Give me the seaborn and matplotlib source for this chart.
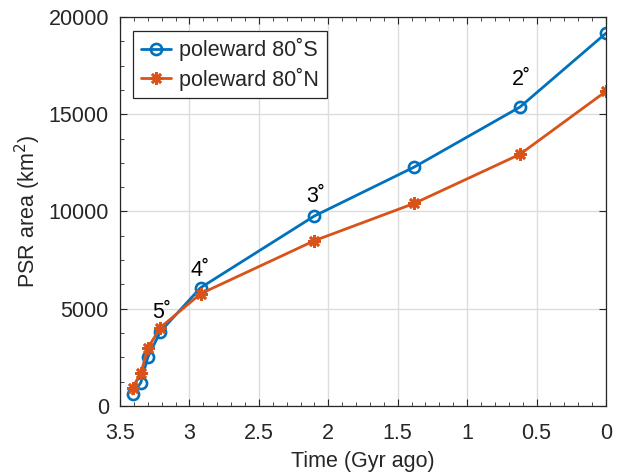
import seaborn as sns
import matplotlib.pyplot as plt
from matplotlib.ticker import MultipleLocator
import pandas as pd

sns.set_style("ticks")
plt.rcParams["font.family"] = ["Liberation Sans", "DejaVu Sans"]

# Data (time in Gyr ago, PSR area in km^2)
time_gyr = [3.41, 3.35, 3.30, 3.21, 2.92, 2.10, 1.38, 0.62, 0.0]
area_south = [620, 1200, 2500, 3820, 6080, 9770, 12290, 15370, 19170]
area_north = [940, 1680, 2970, 4030, 5770, 8500, 10420, 12940, 16180]
series_names = ["poleward 80˚S", "poleward 80˚N"]

# latitude labels attached to points of the southern curve
lat_labels = ["5˚", "4˚", "3˚", "2˚"]
lat_label_idx = [3, 4, 5, 7]

df_s = pd.DataFrame({"time": time_gyr, "area": area_south})
df_n = pd.DataFrame({"time": time_gyr, "area": area_north})

blue = "#0072BD"
orange = "#D95319"

fig = plt.figure(figsize=(6.19, 4.74), dpi=100)
ax = fig.add_axes([0.1939, 0.1435, 0.7851, 0.8206])

sns.lineplot(data=df_s, x="time", y="area", color=blue, marker="o",
             sort=False, linewidth=2.0, markersize=8, markeredgewidth=1.9,
             markerfacecolor="none", markeredgecolor=blue,
             label=series_names[0], ax=ax)
sns.lineplot(data=df_n, x="time", y="area", color=orange, marker=(8, 2, 0),
             sort=False, linewidth=2.0, markersize=9, markeredgewidth=1.9,
             markeredgecolor=orange, label=series_names[1], ax=ax)

ax.set_xlim(3.5, 0)
ax.set_ylim(0, 20000)
ax.xaxis.set_minor_locator(MultipleLocator(0.1))
ax.yaxis.set_major_locator(MultipleLocator(5000))
ax.yaxis.set_minor_locator(MultipleLocator(1250))
ax.set_xticks([3.5, 3, 2.5, 2, 1.5, 1, 0.5, 0])
ax.set_xticklabels(["3.5", "3", "2.5", "2", "1.5", "1", "0.5", "0"])

ax.grid(True, which="major", color="#dcdcdc", linewidth=1.0)
ax.set_axisbelow(True)
for s in ax.spines.values():
    s.set_visible(True)
    s.set_color("#262626")
    s.set_linewidth(0.9)
ax.tick_params(which="both", direction="in", top=True, right=True,
               labelsize=15.5, colors="#262626")
ax.tick_params(axis="x", pad=12)
ax.tick_params(axis="y", pad=8)
ax.tick_params(which="major", length=5)
ax.tick_params(which="minor", length=3, right=False)

ax.set_xlabel("Time (Gyr ago)", fontsize=15.5, color="#262626", labelpad=5)
ax.set_ylabel("PSR area (km$^2$)", fontsize=15.5, color="#262626", labelpad=4)

offsets = [(1, 6), (0, 4.5), (1, 6.5), (1, 12.5)]
for lab, i, off in zip(lat_labels, lat_label_idx, offsets):
    ax.annotate(lab, (time_gyr[i], area_south[i]), xytext=off,
                textcoords="offset points", ha="center", va="bottom",
                fontsize=15.5, color="black")

leg = ax.legend(loc="upper left", fontsize=15.5, frameon=True, fancybox=False,
                edgecolor="#262626", framealpha=1, borderpad=0.35,
                handlelength=1.4, handletextpad=0.4, labelspacing=0.3,
                borderaxespad=0, bbox_to_anchor=(0.027, 0.965))
leg.get_frame().set_linewidth(0.9)

fig.savefig("out.png", dpi=100)
plt.close()
